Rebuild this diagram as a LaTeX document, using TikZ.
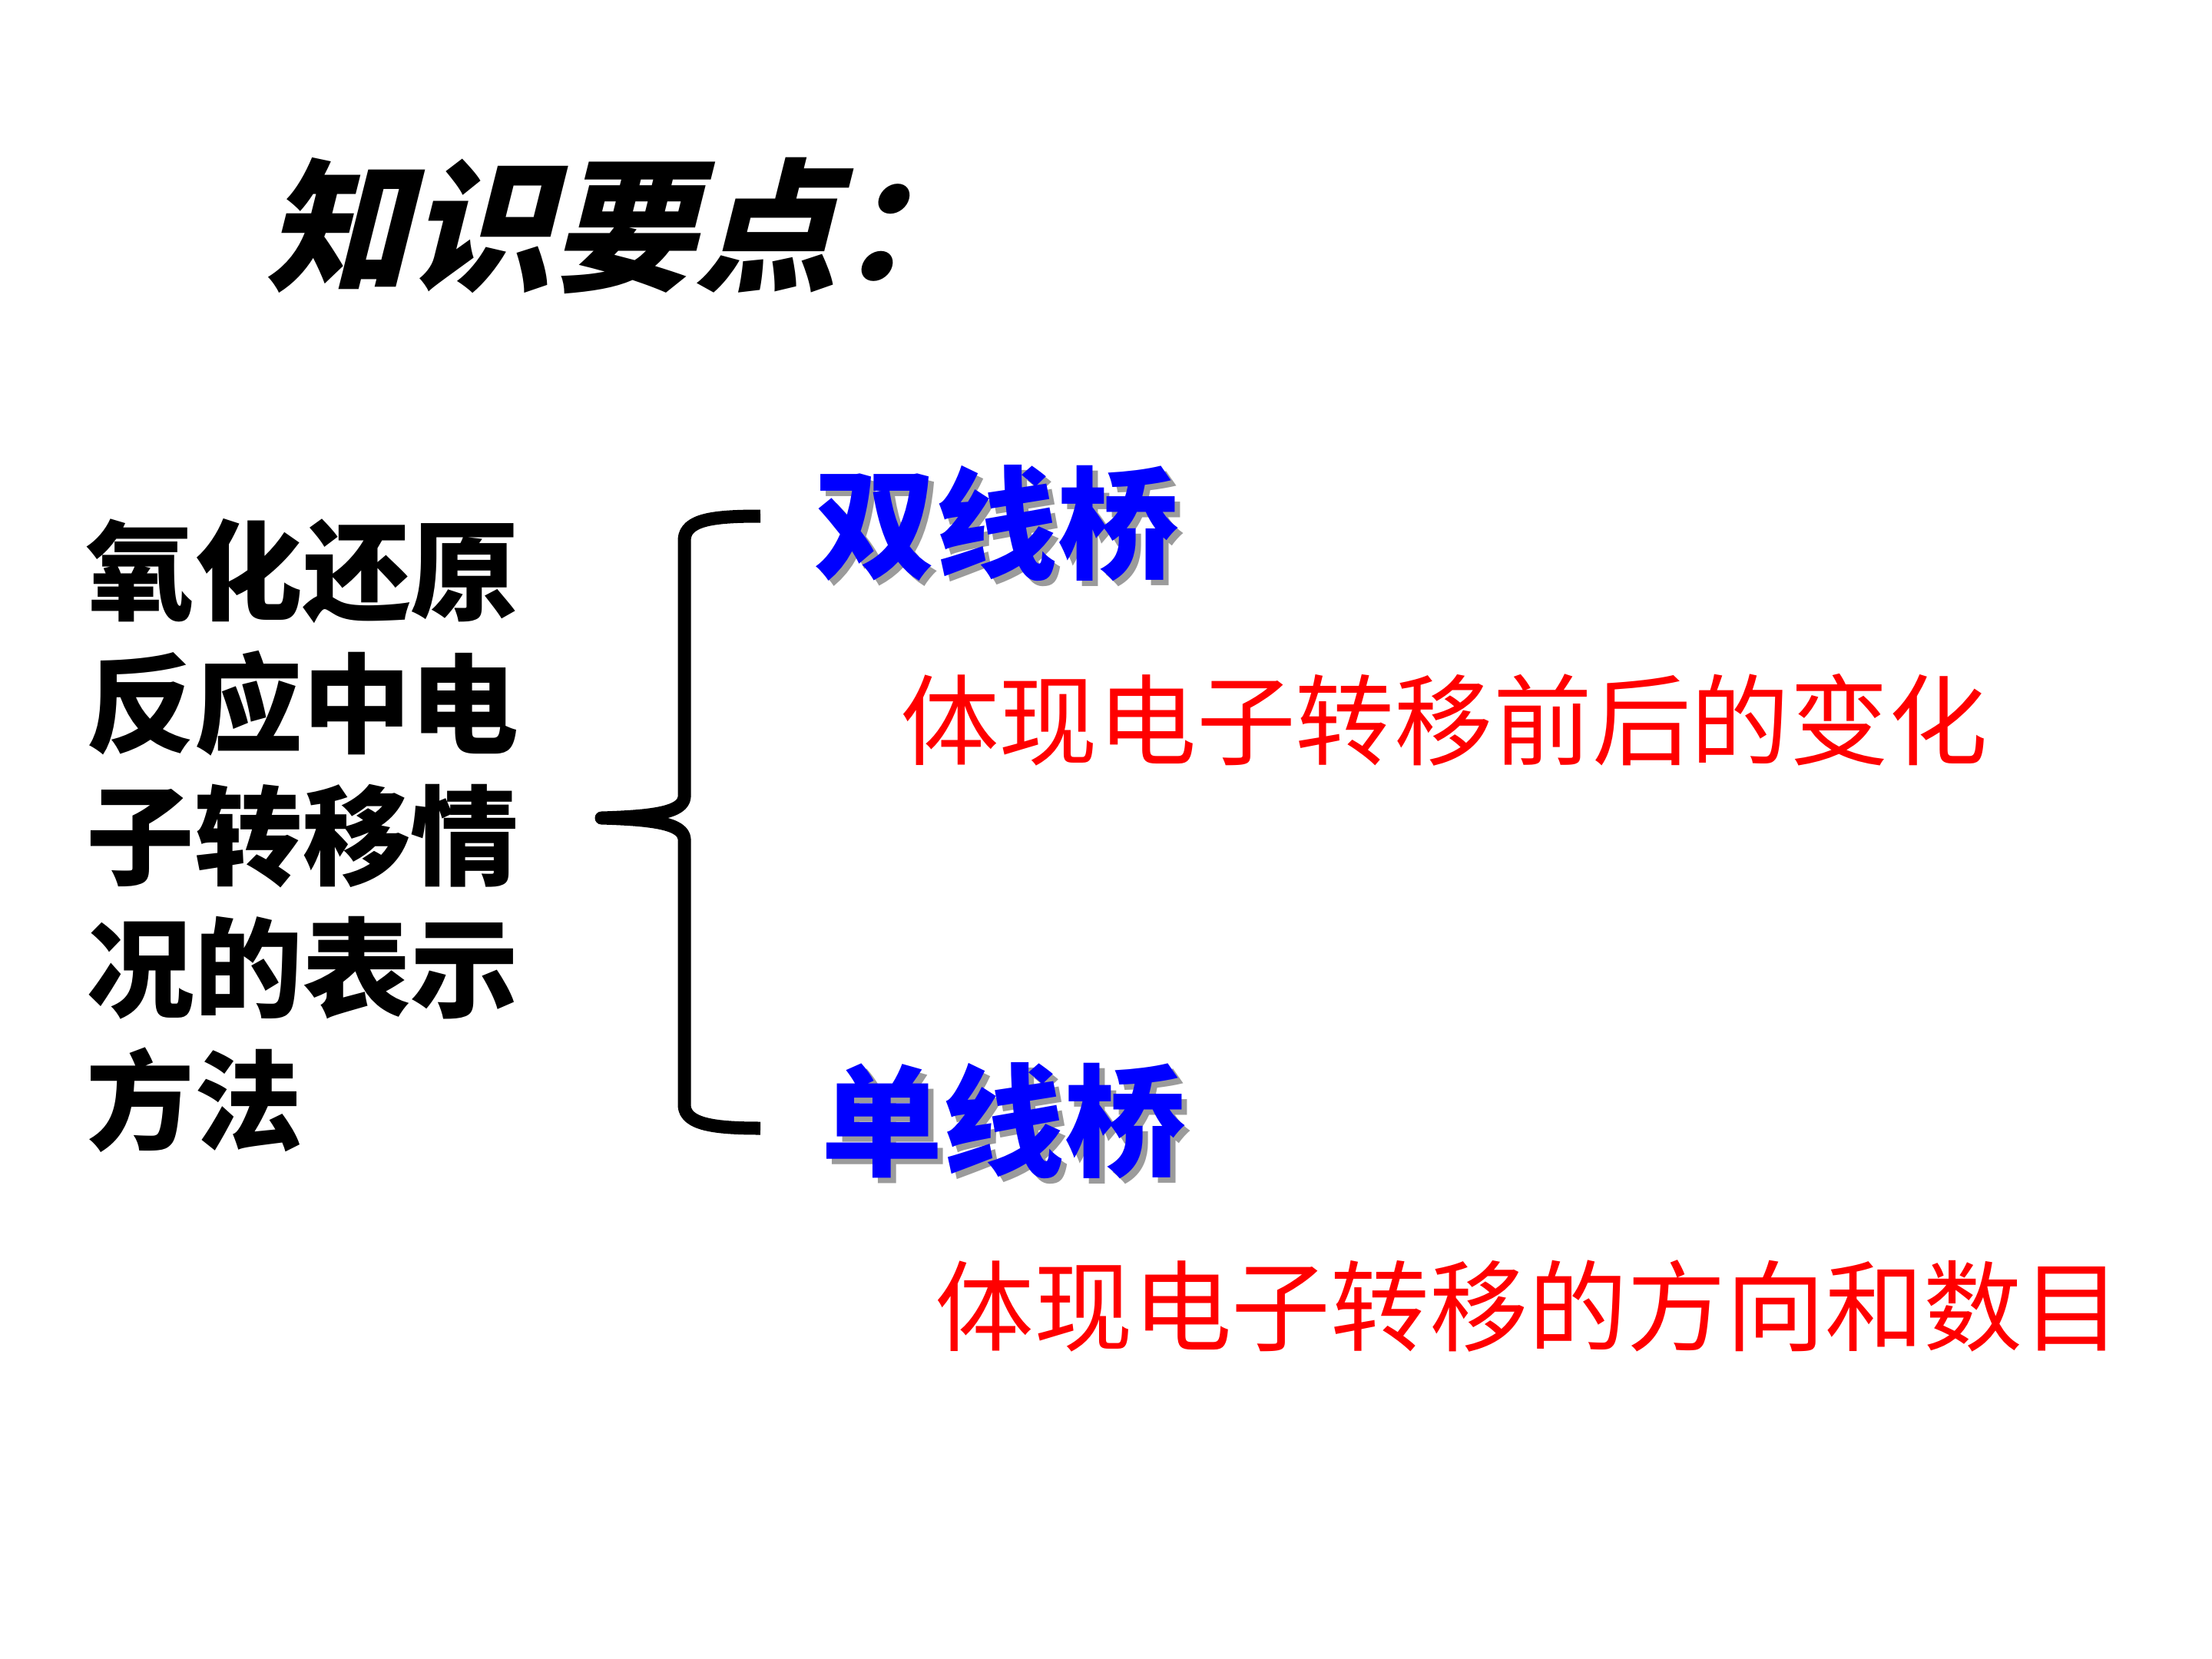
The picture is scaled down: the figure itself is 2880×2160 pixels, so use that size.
\documentclass[tikz,border=0pt]{standalone}
\usepackage{fontspec}
\newfontfamily\cjk{Noto Sans CJK SC}
\newfontfamily\cjktitle{Noto Sans CJK SC}[FakeSlant=0.25]
\definecolor{pblue}{RGB}{0,0,255}
\definecolor{pred}{RGB}{255,0,0}
\definecolor{shade}{RGB}{155,155,155}
\newcommand{\shadowtext}[1]{\rlap{\hspace{0.07cm}\raisebox{-0.07cm}{\textcolor{shade}{#1}}}#1}
\tikzset{
  titletext/.style={inner sep=0pt, font=\cjktitle\bfseries\fontsize{53}{60}\selectfont},
  leftext/.style={inner sep=0pt, align=left, font=\cjk\bfseries\fontsize{40}{49}\selectfont},
  bluetext/.style={inner sep=0pt, text=pblue, font=\cjk\bfseries\fontsize{45}{50}\selectfont},
  redtext/.style={inner sep=0pt, text=pred, font=\cjk\fontsize{36.6}{40}\selectfont},
  bracestroke/.style={line width=0.17cm, line join=round, line cap=butt}
}
\begin{document}
\begin{tikzpicture}[x=0.01cm, y=-0.01cm]
\useasboundingbox[fill=white] (0,0) rectangle (2880,2160);

\node[titletext, anchor=west] (title) at (345,294) {知识要点：};

\node[leftext, anchor=west] (topic) at (112,1088) {氧化还原\\反应中电\\子转移情\\况的表示\\方法};

\draw[bracestroke] (990,672) .. controls (930,672) and (893,676) .. (891,702)
  -- (891,1038) .. controls (889,1058) and (850,1063) .. (783,1065)
  .. controls (850,1067) and (889,1072) .. (891,1092)
  -- (891,1440) .. controls (893,1464) and (930,1469) .. (990,1469);

\node[bluetext] (shuang) at (1298,685) {\shadowtext{双线桥}};
\node[bluetext] (dan) at (1307,1463) {\shadowtext{单线桥}};

\node[redtext] (desc1) at (1880,937) {体现电子转移前后的变化};
\node[redtext] (desc2) at (1990,1700) {体现电子转移的方向和数目};
\end{tikzpicture}
\end{document}
